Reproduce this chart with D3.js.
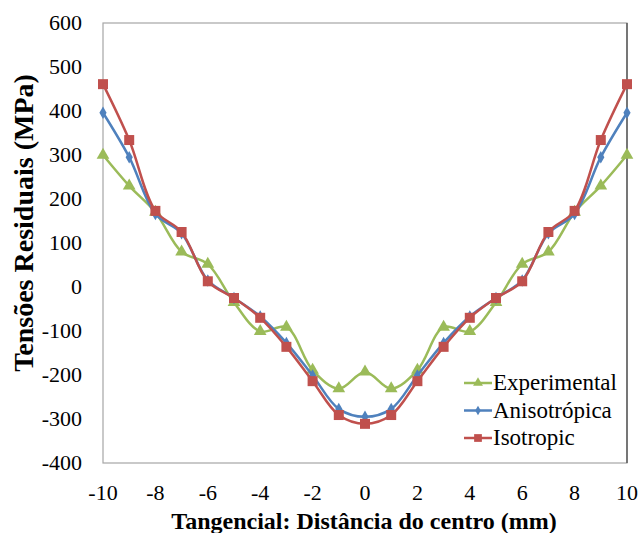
<!DOCTYPE html>
<html>
<head>
<meta charset="utf-8">
<script src="https://cdn.jsdelivr.net/npm/d3@7"></script>
<style>
  body { margin: 0; background: #fff; }
</style>
</head>
<body>
<svg id="chart" width="643" height="533"></svg>
<script>
// Data
let xs = [-10, -9, -8, -7, -6, -5, -4, -3, -2, -1, 0, 1, 2, 3, 4, 5, 6, 7, 8, 9, 10];
let experimental = [300, 230, 170, 80, 52, -35, -101, -91, -189, -231, -193, -231, -189, -91, -101, -35, 52, 80, 170, 230, 300];
let anisotropica = [396, 295, 166, 122, 15, -25, -67, -127, -201, -277, -295, -277, -201, -127, -67, -25, 15, 122, 166, 295, 396];
let isotropic = [461, 334, 173, 125, 13, -25, -70, -136, -214, -291, -311, -291, -214, -136, -70, -25, 13, 125, 173, 334, 461];
let xTicks = [-10, -8, -6, -4, -2, 0, 2, 4, 6, 8, 10];
let yTicks = [-400, -300, -200, -100, 0, 100, 200, 300, 400, 500, 600];

let series = [
  {name: "Experimental", values: experimental, color: "#9BBB59", marker: "triangle"},
  {name: "Anisotrópica", values: anisotropica, color: "#4F81BD", marker: "diamond"},
  {name: "Isotropic", values: isotropic, color: "#C0504D", marker: "square"}
];

let serif = "Liberation Serif";
let svg = d3.select("#chart");
let plotLeft = 103, plotRight = 627, plotTop = 23, plotBottom = 463;

let x = d3.scaleLinear().domain([-10, 10]).range([plotLeft, plotRight]);
let y = d3.scaleLinear().domain([-400, 600]).range([plotBottom, plotTop]);

// plot frame
svg.append("rect")
  .attr("x", plotLeft).attr("y", plotTop)
  .attr("width", plotRight - plotLeft).attr("height", plotBottom - plotTop)
  .attr("fill", "none").attr("stroke", "#a6a6a6").attr("stroke-width", 1.2);
svg.append("line")
  .attr("x1", plotRight).attr("x2", plotRight).attr("y1", plotTop).attr("y2", plotBottom)
  .attr("stroke", "#404040").attr("stroke-width", 1.2);

// y tick labels
svg.append("g").selectAll("text")
  .data(yTicks).join("text")
  .attr("x", 82).attr("y", d => y(d) + 7)
  .attr("text-anchor", "end")
  .attr("font-family", serif)
  .attr("font-size", 22)
  .text(d => d);

// x tick labels
svg.append("g").selectAll("text")
  .data(xTicks).join("text")
  .attr("x", d => x(d)).attr("y", 500)
  .attr("text-anchor", "middle")
  .attr("font-family", serif)
  .attr("font-size", 22)
  .text(d => d);

// axis titles
svg.append("text")
  .attr("x", 364).attr("y", 529)
  .attr("text-anchor", "middle")
  .attr("font-family", serif)
  .attr("font-size", 24).attr("font-weight", "bold")
  .text("Tangencial: Distância do centro (mm)");

svg.append("text")
  .attr("transform", "translate(33,223) rotate(-90)")
  .attr("text-anchor", "middle")
  .attr("font-family", serif)
  .attr("font-size", 28).attr("font-weight", "bold")
  .text("Tensões Residuais (MPa)");

let line = d3.line()
  .x((d, i) => x(xs[i]))
  .y(d => y(d))
  .curve(d3.curveCatmullRom.alpha(0.5));

let symbols = {triangle: d3.symbolTriangle, diamond: d3.symbolDiamond, square: d3.symbolSquare};
let sizes = {triangle: 70, diamond: 45, square: 100};

series.forEach(function(s) {
  svg.append("path")
    .datum(s.values)
    .attr("fill", "none")
    .attr("stroke", s.color)
    .attr("stroke-width", 2.5)
    .attr("d", line);

  svg.append("g").selectAll("path")
    .data(s.values).join("path")
    .attr("transform", (d, i) => "translate(" + x(xs[i]) + "," + y(d) + ")")
    .attr("d", d3.symbol().type(symbols[s.marker]).size(sizes[s.marker]))
    .attr("fill", s.color);
});

// legend
let legend = svg.append("g").attr("transform", "translate(464,383)");
series.forEach(function(s, i) {
  let g = legend.append("g").attr("transform", "translate(0," + (i * 27.5) + ")");
  g.append("line")
    .attr("x1", 0).attr("x2", 28).attr("y1", 0).attr("y2", 0)
    .attr("stroke", s.color).attr("stroke-width", 2.5);
  g.append("path")
    .attr("transform", "translate(14,0)")
    .attr("d", d3.symbol().type(symbols[s.marker]).size(sizes[s.marker] * 0.6))
    .attr("fill", s.color);
  g.append("text")
    .attr("x", 29).attr("y", 7)
    .attr("font-family", serif)
    .attr("font-size", 23)
    .text(s.name);
});
</script>
</body>
</html>
